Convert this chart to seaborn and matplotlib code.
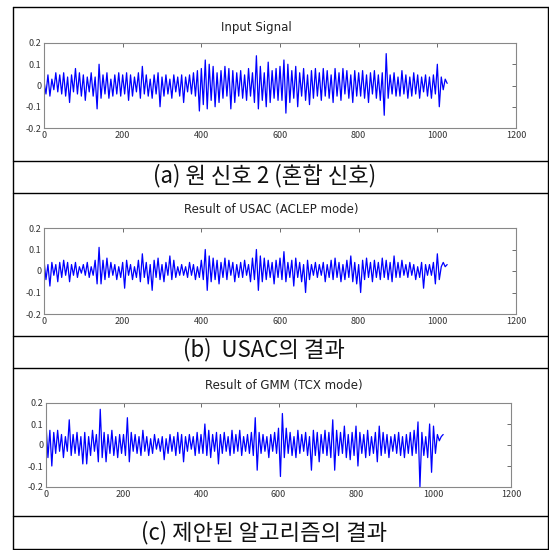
import numpy as np
import pandas as pd
import matplotlib
matplotlib.use("Agg")
import matplotlib.pyplot as plt
from matplotlib.lines import Line2D
import seaborn as sns

# sample spacing of the read-off peaks (every 5th sample of the 1024-sample frame)
STEP = 5

input_signal = [
    0.02, -0.04, 0.05, -0.05, 0.03, -0.02, 0.06, -0.03, 0.05, -0.04, 0.06, -0.05, 0.04, -0.08, 0.05, -0.03, 0.08, -0.04, 0.06, -0.05,
    0.05, -0.07, 0.04, -0.03, 0.06, -0.05, 0.04, -0.11, 0.10, -0.06, 0.05, -0.04, 0.06, -0.06, 0.03, -0.05, 0.05, -0.04, 0.06, -0.05,
    0.05, -0.04, 0.06, -0.07, 0.05, -0.05, 0.04, -0.03, 0.06, -0.06, 0.09, -0.04, 0.05, -0.05, 0.03, -0.06, 0.05, -0.04, 0.06, -0.10,
    0.04, -0.05, 0.05, -0.04, 0.03, -0.06, 0.05, -0.03, 0.04, -0.05, 0.05, -0.08, 0.04, -0.03, 0.05, -0.04, 0.06, -0.05, 0.07, -0.12,
    0.08, -0.09, 0.12, -0.11, 0.10, -0.07, 0.09, -0.10, 0.06, -0.08, 0.07, -0.06, 0.09, -0.05, 0.08, -0.11, 0.07, -0.08, 0.06, -0.05,
    0.07, -0.06, 0.05, -0.07, 0.08, -0.05, 0.06, -0.08, 0.14, -0.11, 0.09, -0.07, 0.06, -0.10, 0.11, -0.08, 0.07, -0.06, 0.08, -0.07,
    0.09, -0.07, 0.12, -0.13, 0.10, -0.08, 0.07, -0.06, 0.09, -0.10, 0.06, -0.05, 0.08, -0.07, 0.05, -0.09, 0.07, -0.06, 0.08, -0.05,
    0.06, -0.07, 0.08, -0.05, 0.07, -0.06, 0.05, -0.08, 0.08, -0.05, 0.06, -0.07, 0.08, -0.04, 0.07, -0.06, 0.05, -0.08, 0.07, -0.05,
    0.06, -0.05, 0.07, -0.06, 0.05, -0.08, 0.06, -0.04, 0.07, -0.06, 0.05, -0.07, 0.06, -0.14, 0.15, -0.06, 0.05, -0.04, 0.06, -0.05,
    0.04, -0.05, 0.07, -0.04, 0.05, -0.06, 0.04, -0.05, 0.06, -0.04, 0.05, -0.06, 0.04, -0.03, 0.05, -0.05, 0.04, -0.06, 0.05, -0.04,
    0.10, -0.10, 0.04, -0.02, 0.03, 0.01,
]

usac_result = [
    0.05, -0.04, 0.03, -0.07, 0.04, -0.02, 0.03, -0.05, 0.04, -0.03, 0.05, -0.02, 0.04, -0.05, 0.03, -0.02, 0.04, -0.03, 0.02, -0.01,
    0.03, -0.02, 0.04, -0.03, 0.02, -0.02, 0.05, -0.06, 0.11, -0.06, 0.05, -0.04, 0.06, -0.03, 0.04, -0.02, 0.03, -0.04, 0.02, -0.03,
    0.04, -0.08, 0.05, -0.02, 0.03, -0.04, 0.02, -0.03, 0.05, -0.05, 0.08, -0.03, 0.04, -0.06, 0.03, -0.09, 0.05, -0.03, 0.06, -0.04,
    0.03, -0.05, 0.04, -0.02, 0.07, -0.04, 0.05, -0.03, 0.02, -0.02, 0.03, -0.02, 0.02, -0.03, 0.04, -0.02, 0.03, -0.04, 0.02, -0.03,
    0.05, -0.04, 0.10, -0.09, 0.07, -0.05, 0.06, -0.04, 0.05, -0.06, 0.04, -0.03, 0.06, -0.04, 0.05, -0.02, 0.04, -0.05, 0.03, -0.03,
    0.04, -0.03, 0.05, -0.02, 0.03, -0.05, 0.06, -0.04, 0.10, -0.09, 0.07, -0.05, 0.06, -0.04, 0.05, -0.03, 0.04, -0.06, 0.05, -0.03,
    0.06, -0.04, 0.09, -0.05, 0.04, -0.03, 0.05, -0.07, 0.06, -0.03, 0.04, -0.05, 0.03, -0.10, 0.05, -0.04, 0.03, -0.02, 0.04, -0.03,
    0.03, -0.02, 0.04, -0.05, 0.03, -0.03, 0.05, -0.04, 0.06, -0.03, 0.04, -0.05, 0.03, -0.04, 0.05, -0.03, 0.07, -0.05, 0.04, -0.06,
    0.03, -0.10, 0.05, -0.04, 0.06, -0.03, 0.04, -0.05, 0.05, -0.03, 0.04, -0.04, 0.06, -0.03, 0.05, -0.04, 0.04, -0.05, 0.07, -0.03,
    0.04, -0.03, 0.05, -0.02, 0.03, -0.03, 0.04, -0.02, 0.03, -0.04, 0.02, -0.03, 0.04, -0.08, 0.03, -0.02, 0.03, -0.02, 0.04, -0.06,
    0.08, -0.04, 0.02, 0.04, 0.02, 0.03,
]

gmm_result = [
    0.10, -0.06, 0.07, -0.10, 0.06, -0.04, 0.07, -0.03, 0.05, -0.06, 0.04, -0.03, 0.12, -0.05, 0.05, -0.04, 0.06, -0.05, 0.04, -0.09,
    0.06, -0.09, 0.04, -0.05, 0.07, -0.03, 0.05, -0.08, 0.17, -0.06, 0.06, -0.08, 0.05, -0.04, 0.07, -0.05, 0.04, -0.06, 0.05, -0.04,
    0.05, -0.05, 0.13, -0.08, 0.06, -0.03, 0.05, -0.04, 0.04, -0.05, 0.07, -0.03, 0.04, -0.05, 0.03, -0.04, 0.05, -0.02, 0.03, -0.03,
    0.04, -0.07, 0.03, -0.04, 0.05, -0.03, 0.04, -0.05, 0.06, -0.04, 0.05, -0.08, 0.04, -0.03, 0.05, -0.02, 0.04, -0.05, 0.06, -0.04,
    0.05, -0.04, 0.10, -0.05, 0.07, -0.06, 0.05, -0.03, 0.06, -0.09, 0.05, -0.04, 0.06, -0.03, 0.04, -0.05, 0.07, -0.04, 0.05, -0.03,
    0.07, -0.05, 0.04, -0.03, 0.05, -0.04, 0.06, -0.05, 0.13, -0.12, 0.06, -0.04, 0.05, -0.03, 0.04, -0.06, 0.05, -0.03, 0.06, -0.04,
    0.08, -0.15, 0.15, -0.06, 0.08, -0.04, 0.06, -0.05, 0.04, -0.06, 0.07, -0.04, 0.05, -0.03, 0.06, -0.05, 0.04, -0.12, 0.07, -0.05,
    0.06, -0.08, 0.05, -0.04, 0.07, -0.05, 0.06, -0.06, 0.12, -0.12, 0.07, -0.05, 0.06, -0.04, 0.09, -0.06, 0.05, -0.07, 0.06, -0.05,
    0.09, -0.10, 0.06, -0.04, 0.05, -0.06, 0.07, -0.05, 0.04, -0.04, 0.06, -0.08, 0.09, -0.05, 0.06, -0.04, 0.05, -0.06, 0.04, -0.03,
    0.05, -0.04, 0.06, -0.05, 0.04, -0.06, 0.05, -0.04, 0.06, -0.05, 0.07, -0.04, 0.11, -0.20, 0.06, -0.05, 0.04, -0.06, 0.10, -0.13,
    0.09, -0.04, 0.05, 0.02, 0.04, 0.05,
]

plot_titles = ["Input Signal", "Result of USAC (ACLEP mode)", "Result of GMM (TCX mode)"]
captions = ["(a) 원 신호 2 (혼합 신호)", "(b)  USAC의 결과", "(c) 제안된 알고리즘의 결과"]
x_ticks = [0, 200, 400, 600, 800, 1000, 1200]
y_ticks = [-0.2, -0.1, 0, 0.1, 0.2]

sns.set_style("white")
plt.rcParams["font.family"] = ["Noto Sans CJK KR", "DejaVu Sans"]

W, H = 549, 550
fig = plt.figure(figsize=(W / 100, H / 100), dpi=100)

# panel geometry in pixels: (left, top, right, bottom), title centre/y, caption centre/y
panels = [
    ((44, 43, 516, 128), (256, 28), (265, 176)),
    ((44, 228, 516, 314), (271, 209), (264, 350)),
    ((46, 403, 511, 487), (284, 385), (264, 533)),
]
series = [input_signal, usac_result, gmm_result]

for vals, title, caption, (box, tpos, cpos) in zip(series, plot_titles, captions, panels):
    l, t, r, b = box
    ax = fig.add_axes([l / W, 1 - b / H, (r - l) / W, (b - t) / H])
    df = pd.DataFrame({"n": np.arange(len(vals)) * STEP, "amp": vals})
    sns.lineplot(data=df, x="n", y="amp", ax=ax, color="#0000ff", linewidth=0.9)
    ax.set_xlim(0, 1200)
    ax.set_ylim(-0.2, 0.2)
    ax.set_xticks(x_ticks)
    ax.set_yticks(y_ticks)
    ax.set_xticklabels([str(v) for v in x_ticks])
    ax.set_yticklabels(["-0.2", "-0.1", "0", "0.1", "0.2"])
    ax.set_xlabel("")
    ax.set_ylabel("")
    ax.tick_params(direction="in", length=3, width=0.6, labelsize=6.5,
                   colors="#555555", top=True, right=True, pad=2)
    ax.tick_params(axis="both", labelcolor="#333333")
    for s in ax.spines.values():
        s.set_color("#888888")
        s.set_linewidth(0.8)
    fig.text(tpos[0] / W, 1 - tpos[1] / H, title, ha="center", va="center",
             fontsize=8.5, color="#222222", family=["DejaVu Sans"])
    fig.text(cpos[0] / W, 1 - cpos[1] / H, caption, ha="center", va="center",
             fontsize=16, color="#111111")

# outer frame and separators
frame_x = [13 / W, 548 / W]
for y in [7, 161, 193, 336, 368, 516, 549]:
    fig.add_artist(Line2D(frame_x, [1 - y / H] * 2, color="black", linewidth=1.0))
for x in [13, 548]:
    fig.add_artist(Line2D([x / W] * 2, [1 - 7 / H, 1 - 549 / H], color="black", linewidth=1.0))

fig.savefig("out.png", dpi=100)
